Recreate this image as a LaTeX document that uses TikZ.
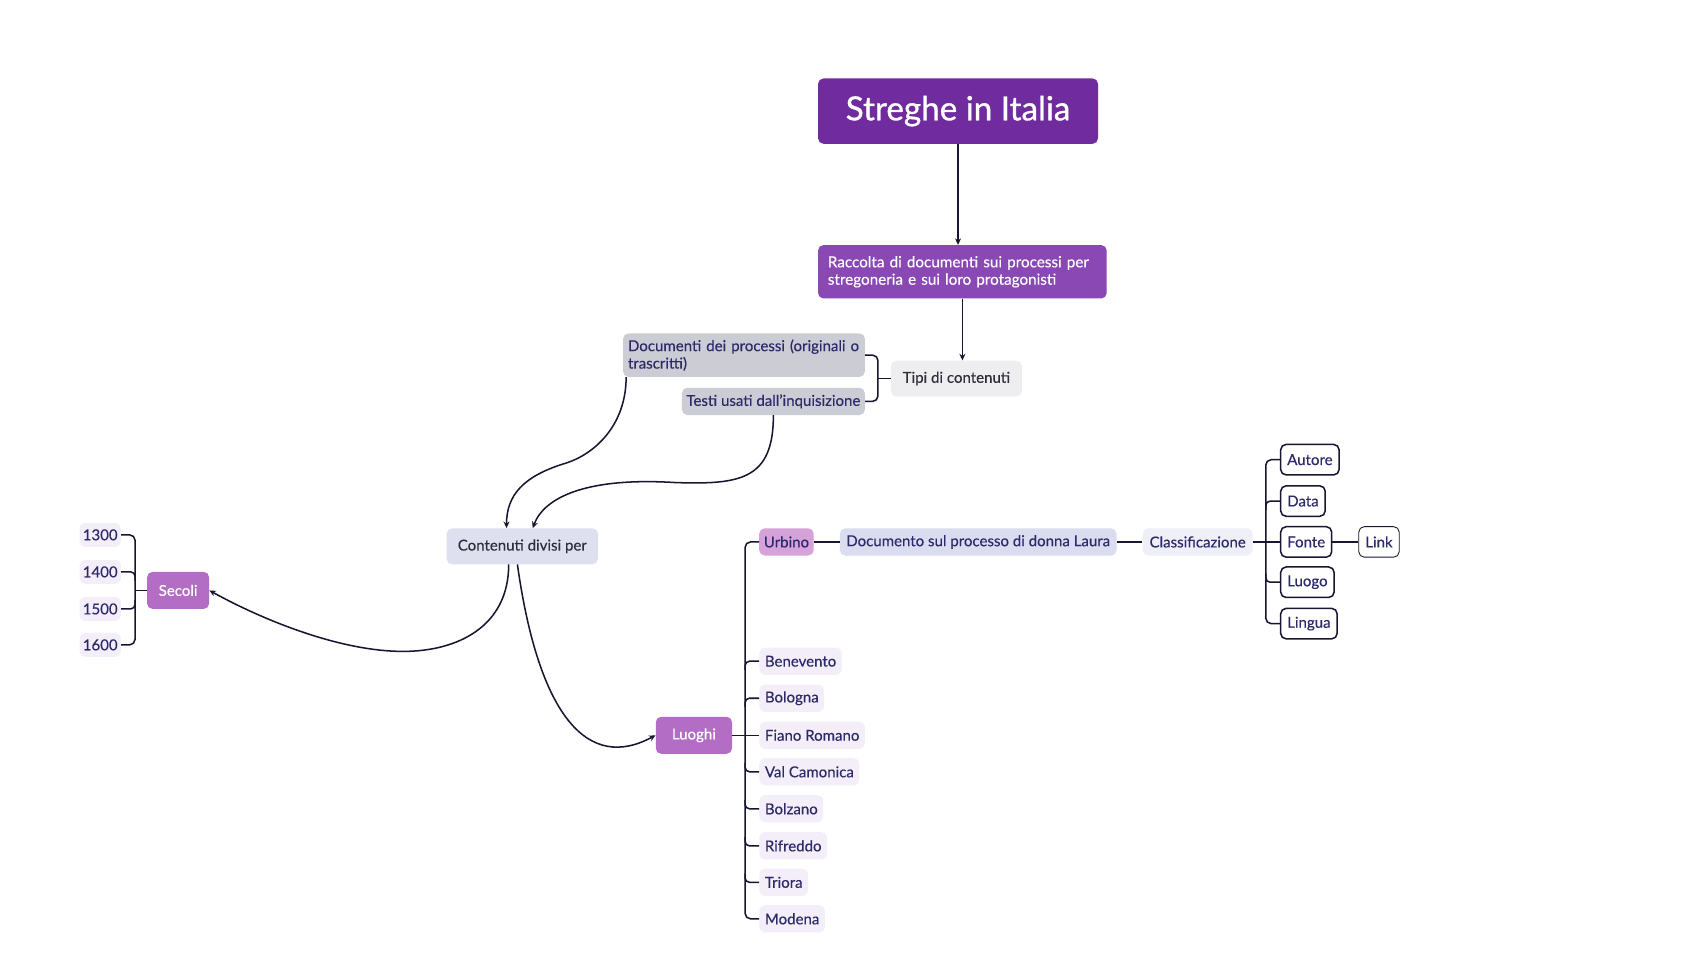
\documentclass[tikz,border=0pt]{standalone}
\usepackage{fontspec}
\setmainfont{Lato}[FakeBold=0.3]
\newfontfamily\titlefont{Lato}[FakeBold=0.9]
\usetikzlibrary{arrows.meta,calc}
\definecolor{titlec}{HTML}{702C9F}
\definecolor{racc}{HTML}{8A48B5}
\definecolor{tipic}{HTML}{EEEEF0}
\definecolor{grayc}{HTML}{CBCCD4}
\definecolor{contc}{HTML}{DEDFEF}
\definecolor{mauve}{HTML}{B36DC5}
\definecolor{urbc}{HTML}{D6A2DA}
\definecolor{lav}{HTML}{F3EEF8}
\definecolor{docc}{HTML}{DADDEF}
\definecolor{classc}{HTML}{EEEFF7}
\definecolor{navy}{HTML}{2D2A6A}
\definecolor{darkt}{HTML}{2E2E3A}
\definecolor{linec}{HTML}{161630}
\begin{document}
\begin{tikzpicture}[x=1pt,y=-1pt,
  conn/.style={draw=linec, line width=1.4pt},
  arr/.style={conn, -{Stealth[length=6pt,width=5.5pt]}},
  base/.style={rounded corners=5pt, inner sep=0pt, font=\fontsize{13.8}{16}\selectfont, text=navy},
  fixbox/.style={base, minimum width=#1},
  place/.style={base, fill=lav, anchor=west, minimum height=25pt, inner xsep=5pt},
  year/.style={base, fill=lav, minimum width=38pt, minimum height=22pt},
  field/.style={base, fill=white, draw=linec, line width=1.4pt, anchor=west, minimum height=28pt, inner xsep=6pt},
  purplebox/.style={base, fill=mauve, text=white, minimum height=34pt}
]
\fill[white] (0,0) rectangle (1568,886);
\useasboundingbox (0,0) rectangle (1568,886);

% main nodes
\node[fixbox=257pt, fill=titlec, minimum height=60pt, text=white, font=\titlefont\fontsize{30.5}{34}\selectfont] (title) at (879.5,102) {Streghe in Italia};
\node[fixbox=265pt, fill=racc, minimum height=49pt, text=white, text width=247pt, align=left, font=\fontsize{14}{16}\selectfont] (raccolta) at (883.5,249.5) {Raccolta di documenti sui processi per\\stregoneria e sui loro protagonisti};
\node[fixbox=120pt, fill=tipic, minimum height=33pt, text=darkt] (tipi) at (878,347.5) {Tipi di contenuti};
\node[fixbox=222pt, fill=grayc, minimum height=40pt, text width=213pt, align=left] (doc) at (683,326) {Documenti dei processi (originali o\\trascritti)};
\node[fixbox=168pt, fill=grayc, minimum height=25pt] (testi) at (710,368.5) {Testi usati dall'inquisizione};
\node[fixbox=139pt, fill=contc, minimum height=33pt, text=darkt] (contenuti) at (479.5,501.5) {Contenuti divisi per};

% secoli
\node[purplebox, minimum width=57pt] (secoli) at (163.5,542) {Secoli};
\node[year] (y1300) at (92,491) {1300};
\node[year] (y1400) at (92,525) {1400};
\node[year] (y1500) at (92,559) {1500};
\node[year] (y1600) at (92,592) {1600};

% luoghi
\node[purplebox, minimum width=70pt] (luoghi) at (637,675) {Luoghi};
\node[fixbox=50pt, fill=urbc, minimum height=25pt] (urbino) at (722,497.5) {Urbino};
\node[place] (benevento) at (697,607) {Benevento};
\node[place] (bologna) at (697,641) {Bologna};
\node[place] (fiano) at (697,675) {Fiano Romano};
\node[place] (valcam) at (697,708.5) {Val Camonica};
\node[place] (bolzano) at (697,742.5) {Bolzano};
\node[place] (rifreddo) at (697,776.5) {Rifreddo};
\node[place] (triora) at (697,810) {Triora};
\node[place] (modena) at (697,843.5) {Modena};

% documento / classificazione
\node[fixbox=254pt, fill=docc, minimum height=25pt] (documento) at (898,497.5) {Documento sul processo di donna Laura};
\node[fixbox=101pt, fill=classc, minimum height=25pt] (classif) at (1099.5,497.5) {Classificazione};
\node[field] (autore) at (1175,422) {Autore};
\node[field] (data) at (1175,460) {Data};
\node[field] (fonte) at (1175,497.5) {Fonte};
\node[field] (luogo) at (1175,534.5) {Luogo};
\node[field] (lingua) at (1175,572.5) {Lingua};
\node[field, line width=0.8pt, anchor=west] (link) at (1247,497.5) {Link};

% arrows top
\draw[arr] (title.south) -- (title.south |- raccolta.north);
\draw[arr] (raccolta.south) -- (raccolta.south |- tipi.north);

% tipi bracket
\coordinate (tj) at (806,347.5);
\draw[conn] (tipi.west) -- (tj);
\draw[conn, rounded corners=5pt] (doc.east) -| (tj) |- (testi.east);

% curves into contenuti
\coordinate (dm) at (520,425);
\draw[arr] ($(doc.south west)+(3,0)$) .. controls +(0,45) and +(25,-8) .. (dm) .. controls +(-40,12) and +(0,-30) .. ($(contenuti.north)+(-14.5,0)$);
\coordinate (tm) at (620,443);
\draw[arr] (testi.south) .. controls +(0,59) and +(60,2) .. (tm) .. controls +(-80,-5) and +(11,-29) .. ($(contenuti.north)+(9.5,0)$);

% curves out of contenuti
\coordinate (sm) at (370,598);
\draw[arr] ($(contenuti.south)+(-12.5,0)$) .. controls +(0,57) and +(50,0) .. (sm) .. controls +(-60,0) and +(45,25) .. (secoli.east);
\draw[arr] ($(contenuti.south)+(-4.5,0)$) .. controls +(20,142) and +(-61,33) .. (luoghi.west);

% years bracket
\coordinate (sj) at (124,542);
\draw[conn] (secoli.west) -- (sj);
\draw[conn, rounded corners=5pt] (y1300.east) -| (sj) |- (y1600.east);
\draw[conn, rounded corners=4pt] ($(sj |- y1400.east)+(0,8)$) |- (y1400.east);
\draw[conn, rounded corners=4pt] ($(sj |- y1500.east)+(0,-8)$) |- (y1500.east);

% luoghi bracket
\coordinate (lj) at (684,675);
\draw[conn] (luoghi.east) -- (fiano.west);
\draw[conn, rounded corners=5pt] (urbino.west) -| (lj) |- (modena.west);
\foreach \n in {benevento,bologna}
  \draw[conn, rounded corners=4pt] ($(lj |- \n.west)+(0,8)$) |- (\n.west);
\foreach \n in {valcam,bolzano,rifreddo,triora}
  \draw[conn, rounded corners=4pt] ($(lj |- \n.west)+(0,-8)$) |- (\n.west);

% urbino chain
\draw[conn] (urbino.east) -- (documento.west);
\draw[conn] (documento.east) -- (classif.west);
\coordinate (cj) at (1162,497.5);
\draw[conn] (classif.east) -- (fonte.west);
\draw[conn, rounded corners=5pt] (autore.west) -| (cj) |- (lingua.west);
\draw[conn, rounded corners=4pt] ($(cj |- data.west)+(0,8)$) |- (data.west);
\draw[conn, rounded corners=4pt] ($(cj |- luogo.west)+(0,-8)$) |- (luogo.west);
\draw[conn, line width=1.2pt] (fonte.east) -- (link.west);
\end{tikzpicture}
\end{document}
